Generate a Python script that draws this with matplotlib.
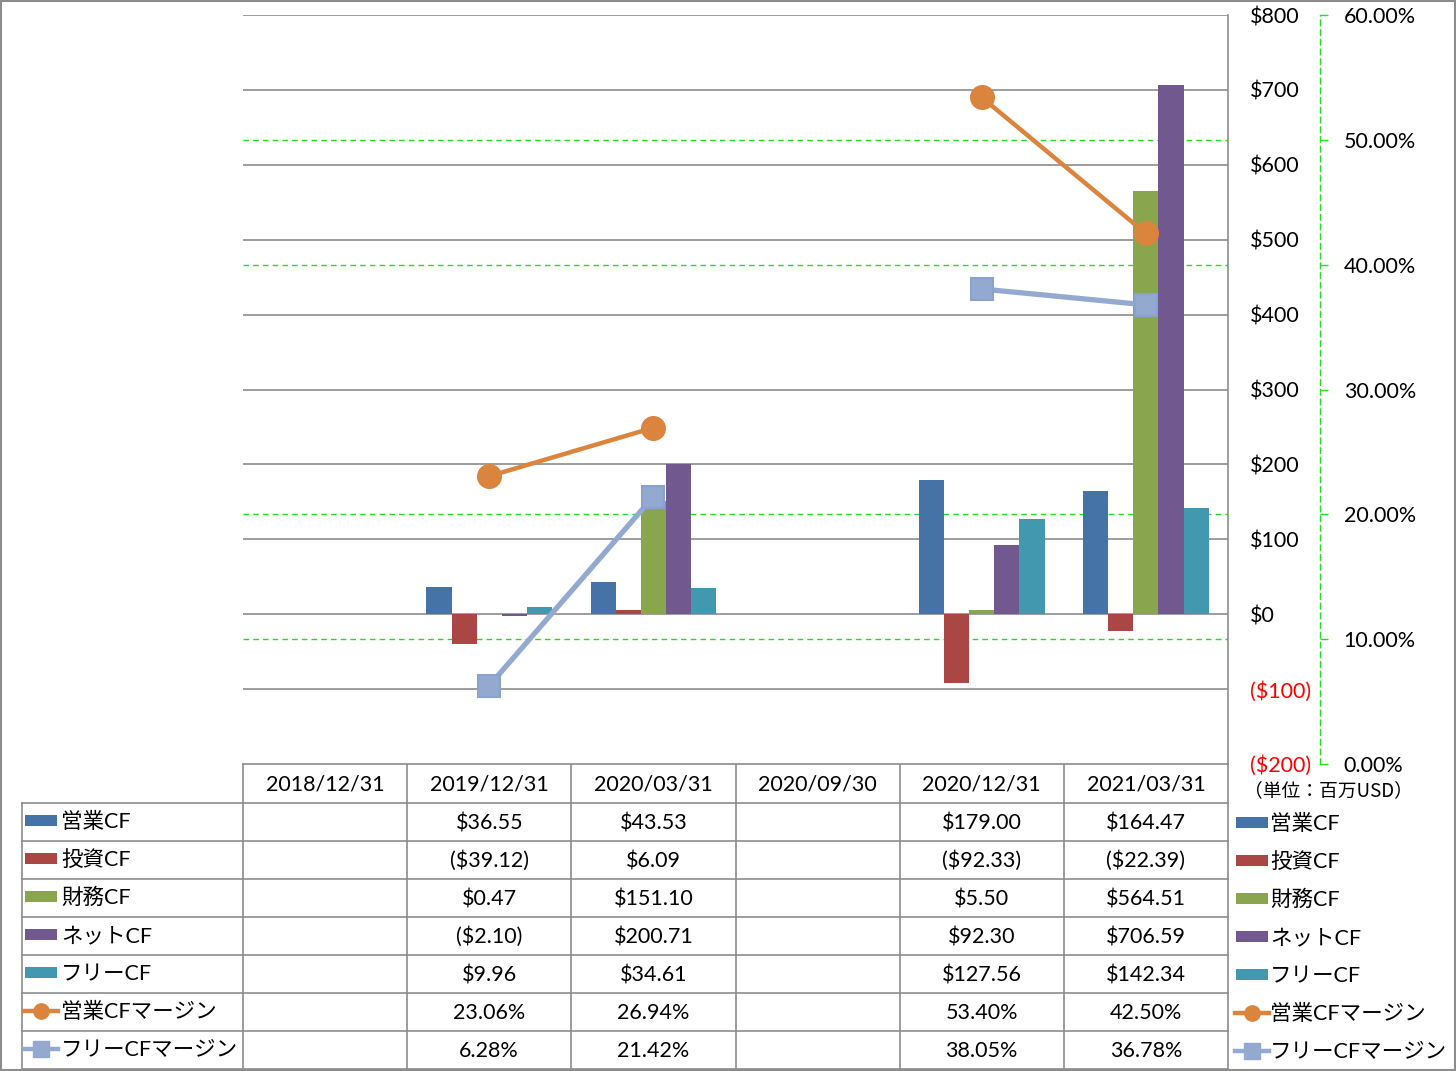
import matplotlib
matplotlib.use('Agg')
import matplotlib.pyplot as plt
import numpy as np
from matplotlib.patches import Rectangle

plt.rcParams['font.family'] = ['Lato', 'Noto Sans CJK JP', 'DejaVu Sans']

# ---------------- data ----------------
dates = ["2018/12/31", "2019/12/31", "2020/03/31", "2020/09/30", "2020/12/31", "2021/03/31"]
nan = np.nan
op_cf = [nan, 36.55, 43.53, nan, 179.00, 164.47]
inv_cf = [nan, -39.12, 6.09, nan, -92.33, -22.39]
fin_cf = [nan, 0.47, 151.10, nan, 5.50, 564.51]
net_cf = [nan, -2.10, 200.71, nan, 92.30, 706.59]
free_cf = [nan, 9.96, 34.61, nan, 127.56, 142.34]
op_margin = [nan, 23.06, 26.94, nan, 53.40, 42.50]
free_margin = [nan, 6.28, 21.42, nan, 38.05, 36.78]

bar_names = ["営業CF", "投資CF", "財務CF", "ネットCF", "フリーCF"]
line_names = ["営業CFマージン", "フリーCFマージン"]
usd_ticks = list(range(-200, 801, 100))
pct_ticks = list(range(0, 61, 10))
unit_label = "（単位：百万USD）"

bar_colors = ['#4572A7', '#AA4643', '#89A54E', '#71588F', '#4198AF']
line_colors = ['#DB843D', '#93A9CF']
GREEN = '#22DD22'
GRAY = '#8C8C8C'

bar_series = [op_cf, inv_cf, fin_cf, net_cf, free_cf]
line_series = [op_margin, free_margin]

# ---------------- layout ----------------
W, H = 1456, 1071
fig = plt.figure(figsize=(W / 100, H / 100), dpi=100)
L, R, T, B = 243, 1228, 15, 764
rect = [L / W, 1 - B / H, (R - L) / W, (B - T) / H]

FS = 15.5
FS_JP = 15.5
USD_LIM = (usd_ticks[0], usd_ticks[-1])
PCT_LIM = (pct_ticks[0], pct_ticks[-1])

# overlay for table
ax0 = fig.add_axes([0, 0, 1, 1], zorder=0)
ax0.set_xlim(0, W)
ax0.set_ylim(H, 0)
ax0.axis('off')

# percent axis (grid + spine)
ax2 = fig.add_axes(rect, zorder=1)
ax2.set_xlim(-0.5, len(dates) - 0.5)
ax2.set_ylim(*PCT_LIM)
ax2.set_xticks([])
for s in ['left', 'top', 'bottom']:
    ax2.spines[s].set_visible(False)
ax2.yaxis.tick_right()
ax2.spines['right'].set_position(('axes', 1 + (1320 - R) / (R - L)))
ax2.spines['right'].set_color(GREEN)
ax2.spines['right'].set_linestyle((0, (4, 3)))
ax2.spines['right'].set_linewidth(1)
ax2.set_yticks(pct_ticks, [f"{v:.2f}%" for v in pct_ticks])
ax2.tick_params(axis='y', direction='out', length=6, width=1, color=GREEN,
                labelsize=FS, pad=11, labelcolor='black')
# green dashed grid only where it does not coincide with a $ gridline
for v in pct_ticks:
    usd_equiv = USD_LIM[0] + (v - PCT_LIM[0]) / (PCT_LIM[1] - PCT_LIM[0]) * (USD_LIM[1] - USD_LIM[0])
    if any(abs(usd_equiv - u) < 1e-6 for u in usd_ticks) or v == PCT_LIM[0]:
        continue
    ax2.axhline(v, color=GREEN, linestyle=(0, (4, 3)), linewidth=1)

# bar axis
ax = fig.add_axes(rect, zorder=2)
ax.patch.set_visible(False)
ax.set_xlim(-0.5, len(dates) - 0.5)
ax.set_ylim(*USD_LIM)
ax.set_xticks([])
for s in ['left', 'top', 'bottom']:
    ax.spines[s].set_visible(False)
ax.spines['right'].set_color(GRAY)
ax.spines['right'].set_linewidth(1.2)
ax.yaxis.tick_right()


def usd_fmt(v):
    return f"(${abs(v):,.0f})" if v < 0 else f"${v:,.0f}"


ax.set_yticks(usd_ticks, [usd_fmt(v) for v in usd_ticks])
ax.tick_params(axis='y', length=0, labelsize=FS, pad=16)
for lab, v in zip(ax.get_yticklabels(), usd_ticks):
    lab.set_color('red' if v < 0 else 'black')
ax.yaxis.grid(True, color=GRAY, linewidth=1.2)
ax.set_axisbelow(True)

x = np.arange(len(dates))
bw = 0.153
for i, (vals, col) in enumerate(zip(bar_series, bar_colors)):
    ax.bar(x + (i - 2) * bw, vals, width=bw, color=col, zorder=2)

# line axis
ax3 = fig.add_axes(rect, zorder=3)
ax3.patch.set_visible(False)
ax3.set_xlim(-0.5, len(dates) - 0.5)
ax3.set_ylim(*PCT_LIM)
ax3.axis('off')
ax3.plot(x, op_margin, color=line_colors[0], lw=3.2, marker='o', ms=17,
         solid_capstyle='round')
ax3.plot(x, free_margin, color=line_colors[1], lw=3.8, marker='s', ms=16,
         markeredgecolor='#8AA3CC', markeredgewidth=1.5)

# ---------------- table ----------------
col_w = (R - L) / len(dates)
hdr_top, hdr_bot = 764, 803
row_h = 38
n_rows = len(bar_names) + len(line_names)
tbl_bot = hdr_bot + n_rows * row_h
LBL_X = 22

lkw = dict(color=GRAY, lw=1.2)
ax0.plot([L, R], [hdr_top, hdr_top], **lkw)
for j in range(n_rows + 1):
    yy = hdr_bot + j * row_h
    ax0.plot([LBL_X, R], [yy, yy], **lkw)
for k in range(len(dates) + 1):
    xx = L + k * col_w
    ax0.plot([xx, xx], [hdr_top, tbl_bot], **lkw)
ax0.plot([LBL_X, LBL_X], [hdr_bot, tbl_bot], **lkw)
ax0.add_patch(Rectangle((0.5, 0.5), W - 2, H - 2, fill=False, ec=GRAY, lw=1.5))

for k, d in enumerate(dates):
    ax0.text(L + (k + 0.5) * col_w, (hdr_top + hdr_bot) / 2 + 1, d, ha='center',
             va='center', fontsize=FS)


def money(v):
    if np.isnan(v):
        return ""
    return f"(${abs(v):,.2f})" if v < 0 else f"${v:,.2f}"


def pct(v):
    if np.isnan(v):
        return ""
    return f"{v:.2f}%"


rows = [(n, s, money) for n, s in zip(bar_names, bar_series)] + \
       [(n, s, pct) for n, s in zip(line_names, line_series)]

for j, (name, vals, fmt) in enumerate(rows):
    yc = hdr_bot + (j + 0.5) * row_h
    for k, v in enumerate(vals):
        ax0.text(L + (k + 0.5) * col_w, yc + 1, fmt(v), ha='center', va='center',
                 fontsize=FS)


def legend_key(x0, yc, j):
    if j < len(bar_names):
        ax0.add_patch(Rectangle((x0, yc - 7), 32, 11, color=bar_colors[j], lw=0))
    else:
        li = j - len(bar_names)
        ax0.plot([x0 - 1, x0 + 33], [yc - 1, yc - 1], color=line_colors[li], lw=3.2)
        ax0.plot([x0 + 16], [yc - 1], color=line_colors[li],
                 marker='o' if li == 0 else 's', ms=11, lw=0)


for j, (name, vals, fmt) in enumerate(rows):
    yc = hdr_bot + (j + 0.5) * row_h
    legend_key(25, yc, j)
    ax0.text(61, yc, name, ha='left', va='center', fontsize=FS_JP)
    legend_key(1236, yc + 2, j)
    ax0.text(1270, yc + 2, name, ha='left', va='center', fontsize=FS_JP)

ax0.text(1244, 791, unit_label, ha='left', va='center', fontsize=13.5,
         family=['Noto Sans CJK JP', 'DejaVu Sans'])

fig.savefig('out.png', dpi=100)
